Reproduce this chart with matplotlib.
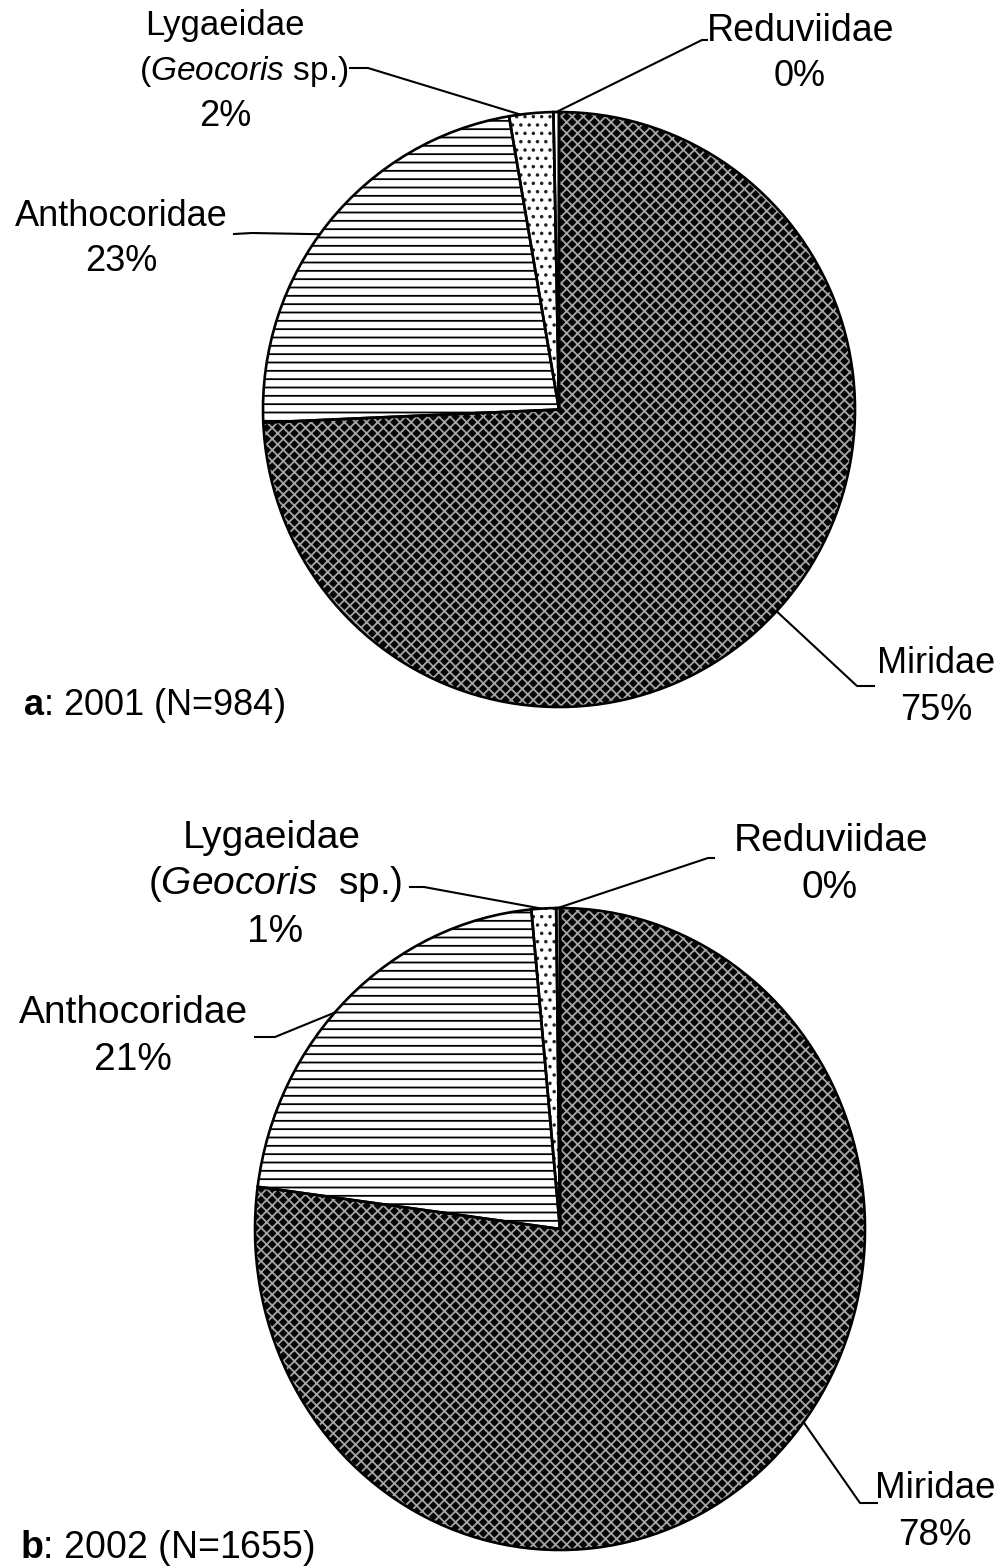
import matplotlib
matplotlib.use("Agg")
import matplotlib.pyplot as plt
import numpy as np
from matplotlib.lines import Line2D

plt.rcParams['font.family'] = ['Liberation Sans', 'DejaVu Sans']
plt.rcParams['mathtext.fontset'] = 'custom'
plt.rcParams['mathtext.rm'] = 'Liberation Sans'
plt.rcParams['mathtext.it'] = 'Liberation Sans:italic'
plt.rcParams['mathtext.bf'] = 'Liberation Sans:bold'
plt.rcParams['hatch.linewidth'] = 1.3

# ---- data (clockwise from 12 o'clock) ----
families = ['Miridae', 'Anthocoridae', 'Lygaeidae', 'Reduviidae']
share_2001 = [74.3, 23.0, 2.4, 0.3]
share_2002 = [77.1, 21.4, 1.3, 0.2]
labels_2001 = ['75%', '23%', '2%', '0%']
labels_2002 = ['78%', '21%', '1%', '0%']
panel_titles = [r'$\bf{a}$: 2001 (N=984)', r'$\bf{b}$: 2002 (N=1655)']

W, H = 1003, 1568
fig = plt.figure(figsize=(W / 100, H / 100), dpi=100)

def fx(x):
    return x / W

def fy(y):
    return 1 - y / H

hatch_style = {
    'Miridae': dict(face='#050505', hc='#a4a4a4', hatch='xxx'),
    'Anthocoridae': dict(face='white', hc='black', hatch='--'),
    'Lygaeidae': dict(face='white', hc='#222222', hatch='..'),
    'Reduviidae': dict(face='white', hc='white', hatch=None),
}

def draw_pie(box, values):
    l, t, r, b = box
    ax = fig.add_axes([fx(l), fy(b), (r - l) / W, (b - t) / H])
    wedges, _ = ax.pie(values, startangle=90, counterclock=False,
                       radius=1, wedgeprops=dict(linewidth=0, clip_on=False))
    for w, name in zip(wedges, families):
        st = hatch_style[name]
        w.set_facecolor(st['face'])
        w.set_edgecolor(st['hc'])
        if st['hatch']:
            w.set_hatch(st['hatch'])
    ax.pie(values, startangle=90, counterclock=False, radius=1,
           wedgeprops=dict(fill=False, edgecolor='black', linewidth=1.9, clip_on=False))
    ax.set_aspect('auto')
    ax.set_xlim(-1, 1)
    ax.set_ylim(-1, 1)
    ax.axis('off')
    return ax

def anchor(ax, ang):
    th = np.deg2rad(ang)
    p = ax.transData.transform((np.cos(th), np.sin(th)))
    return fig.transFigure.inverted().transform(p)

def leader(ax, ang, pts_px):
    a = anchor(ax, ang)
    xs = [a[0]] + [fx(p[0]) for p in pts_px]
    ys = [a[1]] + [fy(p[1]) for p in pts_px]
    fig.add_artist(Line2D(xs, ys, transform=fig.transFigure, color='black',
                          lw=1.5, solid_joinstyle='round'))

def txt(x, y, s, ha='center', size=26):
    fig.text(fx(x), fy(y), s, ha=ha, va='baseline', fontsize=size)

# ---------------- panel a ----------------
ax1 = draw_pie((263, 112, 855, 707), share_2001)
leader(ax1, -42.7, [(857, 686), (874, 686)])
leader(ax1, 143.9, [(252, 233), (234, 234)])
leader(ax1, 97.5, [(368, 68), (350, 68)])
leader(ax1, 90.5, [(702, 40), (707, 40)])

txt(225, 35, 'Lygaeidae', size=25)
txt(244, 80, '(' + r'$\it{Geocoris}$' + ' sp.)', size=24)
txt(225, 126, labels_2001[2])
txt(801, 41, 'Reduviidae', size=27)
txt(800, 86, labels_2001[3])
txt(121, 226, 'Anthocoridae')
txt(121, 271, labels_2001[1])
txt(936, 673, 'Miridae')
txt(936, 720, labels_2001[0])
txt(23, 715, panel_titles[0], ha='left')

# ---------------- panel b ----------------
ax2 = draw_pie((255, 908, 865, 1550), share_2002)
leader(ax2, -37.0, [(860, 1503), (877, 1503)])
leader(ax2, 137.6, [(275, 1037), (255, 1037)])
leader(ax2, 93.5, [(424, 887), (410, 887)])
leader(ax2, 90.4, [(708, 858), (714, 858)])

txt(272, 848, 'Lygaeidae', size=28)
txt(275, 894, '(' + r'$\it{Geocoris}$' + '  sp.)', size=28)
txt(275, 942, labels_2002[2], size=28)
txt(831, 851, 'Reduviidae', size=28)
txt(830, 898, labels_2002[3], size=28)
txt(133, 1023, 'Anthocoridae', size=28)
txt(133, 1070, labels_2002[1], size=28)
txt(935, 1498, 'Miridae', size=26.5)
txt(935, 1545, labels_2002[0], size=26.5)
txt(20, 1558, panel_titles[1], ha='left', size=27)

fig.savefig('out.png', dpi=100, facecolor='white')
